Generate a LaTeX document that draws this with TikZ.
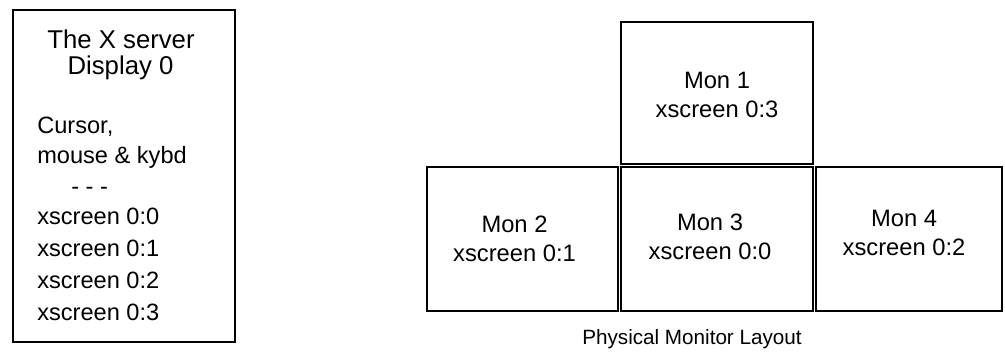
\documentclass[tikz,border=0pt]{standalone}
\usepackage{fontspec}
\setmainfont{Liberation Sans}
\usetikzlibrary{positioning}
\tikzset{
	serverbox/.style = {draw, rectangle, line width=1.1pt, outer sep=0pt, minimum width=166.5pt, minimum height=249pt},
	monbox/.style    = {draw, rectangle, line width=1.1pt, outer sep=0pt, minimum height=108pt},
	montext/.style   = {align=center, font=\fontsize{17.8}{21.75}\selectfont},
	titleline/.style = {anchor=base, inner sep=0pt, font=\fontsize{19.3}{22}\selectfont},
	listline/.style  = {anchor=base west, inner sep=0pt, font=\fontsize{17.7}{21}\selectfont},
	caption/.style   = {anchor=base, inner sep=0pt, font=\fontsize{15.5}{18}\selectfont}
}

\begin{document}
\begin{tikzpicture}[x=0.75pt, y=-0.75pt, node distance=2.25pt]
	\useasboundingbox (0,0) rectangle (1005,356);

	% the X server
	\node (server) [serverbox] at (124,176) {};
	\node (title1) [titleline] at (121,49) {The X server};
	\node (title2) [titleline] at (120.5,75) {Display 0};
	\node (cursor) [listline] at (37,133) {Cursor,};
	\node (input)  [listline] at (37,163) {mouse \& kybd};
	\node (sep)    [listline] at (71,194) {- - -};
	\node (xs0)    [listline] at (37,224) {xscreen 0:0};
	\node (xs1)    [listline] at (37,256) {xscreen 0:1};
	\node (xs2)    [listline] at (37,288) {xscreen 0:2};
	\node (xs3)    [listline] at (37,320) {xscreen 0:3};

	% physical monitors
	\node (mon1) [monbox, minimum width=144pt, minimum height=106.5pt] at (717,93) {};
	\node (mon3) [monbox, minimum width=144pt, below=of mon1] {};
	\node (mon2) [monbox, minimum width=143.25pt, left=of mon3] {};
	\node (mon4) [monbox, minimum width=139.5pt, right=of mon3] {};

	\node (mon1txt) [montext, yshift=-1.5pt] at (mon1.center) {Mon 1\\xscreen 0:3};
	\node (mon2txt) [montext, xshift=-6pt] at (mon2.center) {Mon 2\\xscreen 0:1};
	\node (mon3txt) [montext, xshift=-5.25pt, yshift=1.5pt] at (mon3.center) {Mon 3\\xscreen 0:0};
	\node (mon4txt) [montext, xshift=-3.75pt, yshift=4.5pt] at (mon4.center) {Mon 4\\xscreen 0:2};

	\node (layout) [caption] at (692,344) {Physical Monitor Layout};
\end{tikzpicture}
\end{document}
